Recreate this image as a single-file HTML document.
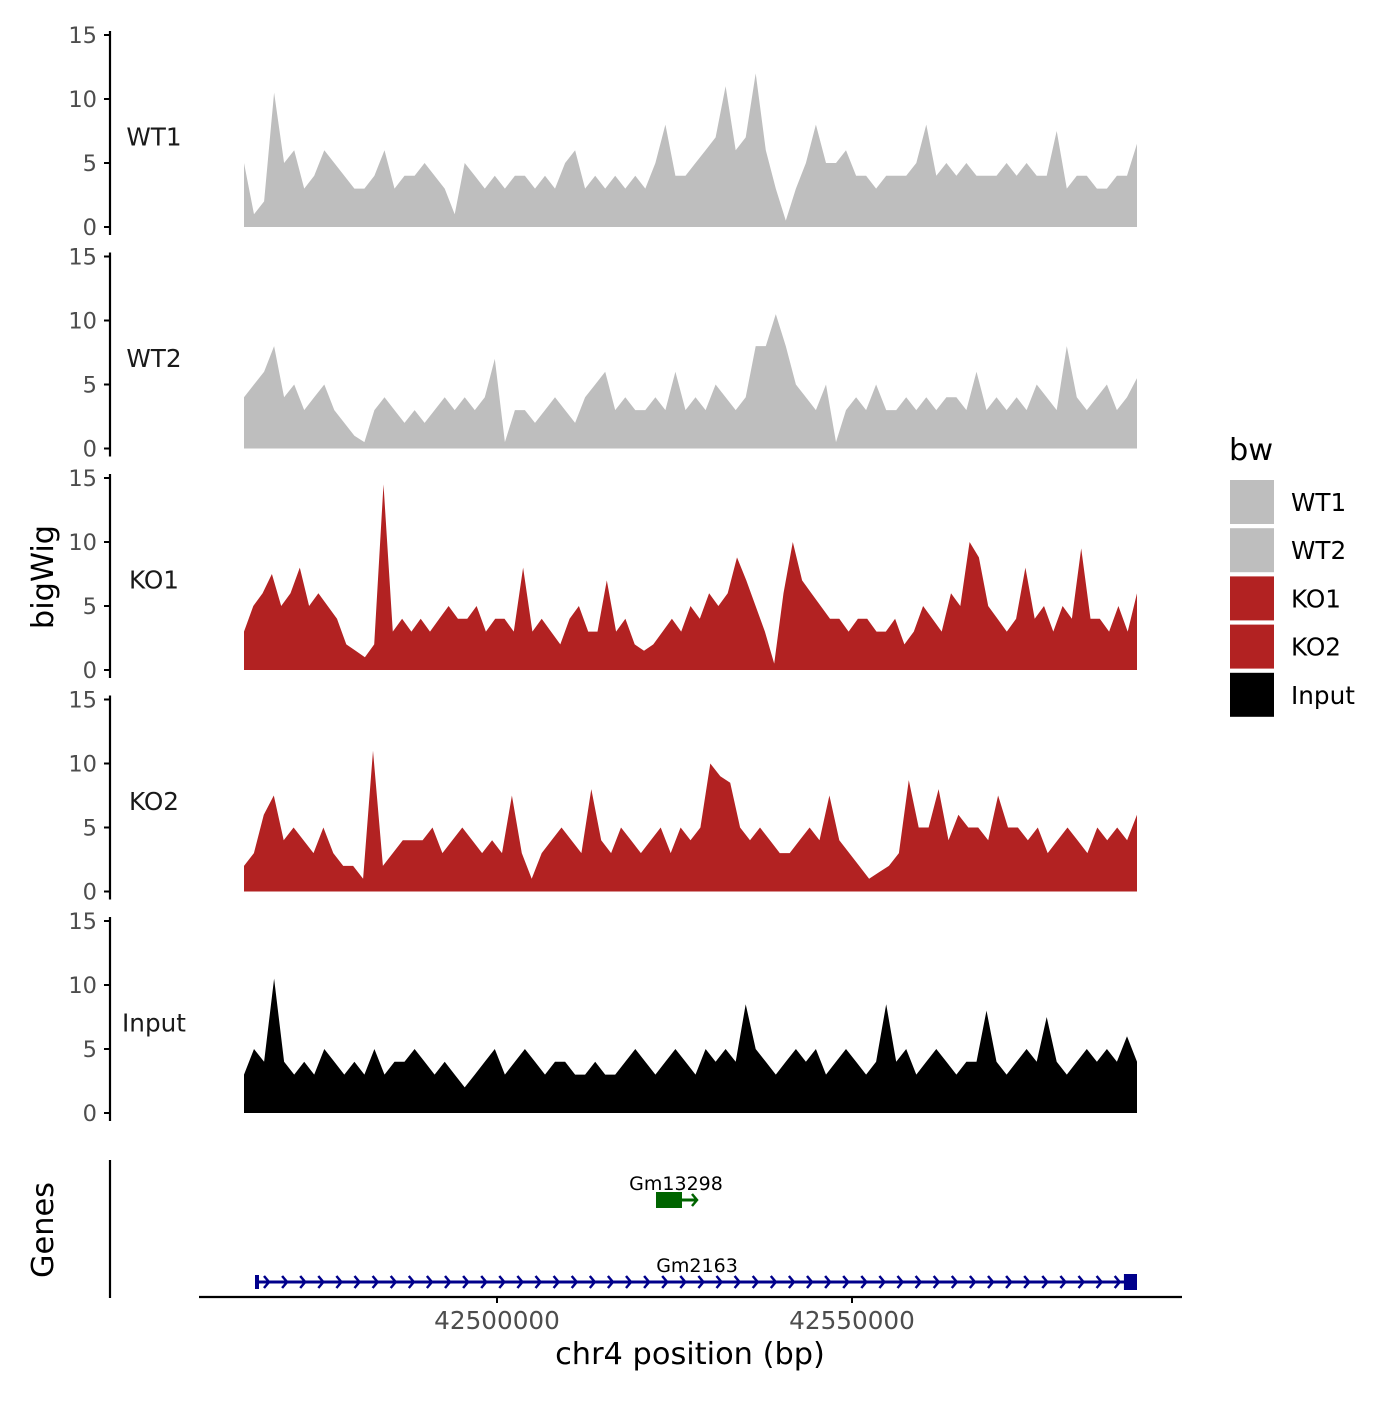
<!DOCTYPE html>
<html><head><meta charset="utf-8">
<style>
html,body{margin:0;padding:0;background:#fff;}
svg text{font-family:"DejaVu Sans","Liberation Sans",sans-serif;}
</style></head>
<body>
<svg id="chart" width="1400" height="1400" viewBox="0 0 1400 1400" xmlns="http://www.w3.org/2000/svg">
<g id="tracks"></g>
<g id="genes"></g>
<g id="axes"></g>
<g id="legend"></g>
</svg>
<script>
const trackNames = ["WT1","WT2","KO1","KO2","Input"];
const trackColors = ["#bebebe","#bebebe","#b22222","#b22222","#000000"];
const yTicks = [0,5,10,15];
const xTicks = [42500000,42550000];
const xStartBp = 42464366, xEndBp = 42590141;
const wt1 = [5,1,2,10.5,5,6,3,4,6,5,4,3,3,4,6,3,4,4,5,4,3,1,5,4,3,4,3,4,4,3,4,3,5,6,3,4,3,4,3,4,3,5,8,4,4,5,6,7,11,6,7,12,6,3,0.5,3,5,8,5,5,6,4,4,3,4,4,4,5,8,4,5,4,5,4,4,4,5,4,5,4,4,7.5,3,4,4,3,3,4,4,6.5];
const wt2 = [4,5,6,8,4,5,3,4,5,3,2,1,0.5,3,4,3,2,3,2,3,4,3,4,3,4,7,0.5,3,3,2,3,4,3,2,4,5,6,3,4,3,3,4,3,6,3,4,3,5,4,3,4,8,8,10.5,8,5,4,3,5,0.5,3,4,3,5,3,3,4,3,4,3,4,4,3,6,3,4,3,4,3,5,4,3,8,4,3,4,5,3,4,5.5];
const ko1 = [3,5,6,7.5,5,6,8,5,6,5,4,2,1.5,1,2,14.5,3,4,3,4,3,4,5,4,4,5,3,4,4,3,8,3,4,3,2,4,5,3,3,7,3,4,2,1.5,2,3,4,3,5,4,6,5,6,8.8,7,5,3,0.5,6,10,7,6,5,4,4,3,4,4,3,3,4,2,3,5,4,3,6,5,10,8.8,5,4,3,4,8,4,5,3,5,4,9.5,4,4,3,5,3,6];
const ko2 = [2,3,6,7.5,4,5,4,3,5,3,2,2,1,11,2,3,4,4,4,5,3,4,5,4,3,4,3,7.5,3,1,3,4,5,4,3,8,4,3,5,4,3,4,5,3,5,4,5,10,9,8.5,5,4,5,4,3,3,4,5,4,7.5,4,3,2,1,1.5,2,3,8.7,5,5,8,4,6,5,5,4,7.5,5,5,4,5,3,4,5,4,3,5,4,5,4,6];
const input = [3,5,4,10.5,4,3,4,3,5,4,3,4,3,5,3,4,4,5,4,3,4,3,2,3,4,5,3,4,5,4,3,4,4,3,3,4,3,3,4,5,4,3,4,5,4,3,5,4,5,4,8.5,5,4,3,4,5,4,5,3,4,5,4,3,4,8.5,4,5,3,4,5,4,3,4,4,8,4,3,4,5,4,7.5,4,3,4,5,4,5,4,6,4];
const trackValues = [wt1,wt2,ko1,ko2,input];
const geneNames = ["Gm13298","Gm2163"];
const geneStarts = [42522394,42466197];
const geneEnds = [42528169,42590141];
const geneCdsEnds = [42526056,42588300];
const geneColors = ["#006400","#00008b"];

const NS="http://www.w3.org/2000/svg";
function mk(tag,attrs,parent){const e=document.createElementNS(NS,tag);for(const k in attrs)e.setAttribute(k,attrs[k]);parent.appendChild(e);return e;}
const X0=244,X1=1137;
function xScale(bp){return X0+(bp-xStartBp)/(xEndBp-xStartBp)*(X1-X0);}
const pxPerUnit=12.8;
function panelBase(k){return 227+k*221.5;}
function yScale(k,v){return panelBase(k)-v*pxPerUnit;}

const tracks=document.getElementById('tracks');
const axes=document.getElementById('axes');
trackNames.forEach((name,k)=>{
  const vals=trackValues[k];
  const n=vals.length;
  let d="M"+X0+","+panelBase(k);
  vals.forEach((v,i)=>{const x=X0+i*(X1-X0)/(n-1);d+=" L"+x.toFixed(1)+","+yScale(k,v).toFixed(1);});
  d+=" L"+X1+","+panelBase(k)+" Z";
  const p=mk('path',{d:d,fill:trackColors[k]},tracks);
  
  
  const ax=mk('line',{x1:110,x2:110,y1:yScale(k,15)-4,y2:panelBase(k)+8,stroke:'#000','stroke-width':2.2},axes);
  
  
  yTicks.forEach(t=>{
    const y=yScale(k,t);
    const tl=mk('line',{x1:104,x2:110,y1:y,y2:y,stroke:'#000','stroke-width':2},axes);
    
    
    const tx=mk('text',{x:97,y:y+8,'text-anchor':'end','font-size':22.5,fill:'#4d4d4d'},axes);
    tx.textContent=t;
    
    
  });
  const lb=mk('text',{x:154,y:yScale(k,7)+8,'text-anchor':'middle','font-size':24.7,fill:'#1a1a1a'},axes);
  lb.textContent=name;
  
  
});
const yt=mk('text',{x:53,y:577,'text-anchor':'middle','font-size':30.4,fill:'#000',transform:'rotate(-90 53 577)'},axes);
yt.textContent='bigWig';


const gy=mk('text',{x:53,y:1230,'text-anchor':'middle','font-size':30.4,fill:'#000',transform:'rotate(-90 53 1230)'},axes);
gy.textContent='Genes';


const ga=mk('line',{x1:110,x2:110,y1:1160,y2:1298,stroke:'#000','stroke-width':2.2},axes);


const xa=mk('line',{x1:199,x2:1182,y1:1297,y2:1297,stroke:'#000','stroke-width':2.2},axes);


xTicks.forEach(t=>{
  const x=xScale(t);
  const tl=mk('line',{x1:x,x2:x,y1:1297,y2:1303,stroke:'#000','stroke-width':2},axes);
  
  
  const tx=mk('text',{x:x,y:1329,'text-anchor':'middle','font-size':24.7,fill:'#4d4d4d'},axes);
  tx.textContent=t;
  
  
});
const xt=mk('text',{x:690,y:1364,'text-anchor':'middle','font-size':30.4,fill:'#000'},axes);
xt.textContent='chr4 position (bp)';



const genes=document.getElementById('genes');
const geneY=[1200,1282];
geneNames.forEach((g,i)=>{
  const xs=xScale(geneStarts[i]),xe=xScale(geneEnds[i]),xc=xScale(geneCdsEnds[i]),y=geneY[i],c=geneColors[i];
  const ln=mk('line',{x1:xs,x2:xe,y1:y,y2:y,stroke:c,'stroke-width':3},genes);
  
  
  if(i===0){
    const r=mk('rect',{x:xs,y:y-8,width:xc-xs,height:16,fill:c},genes);
    
    
    const a=mk('path',{d:`M${xe-5},${y-6} L${xe},${y} L${xe-5},${y+6}`,stroke:c,fill:'none','stroke-width':2.5},genes);
    
    
  } else {
    const r=mk('rect',{x:xc,y:y-8,width:xe-xc,height:16,fill:c},genes);
    
    
    const s=mk('line',{x1:xs,x2:xs,y1:y-7,y2:y+7,stroke:c,'stroke-width':4},genes);
    
    
    for(let x=xs+10;x<xc-4;x+=18.1){
      const a=mk('path',{d:`M${x-3},${y-6} L${x+2},${y} L${x-3},${y+6}`,stroke:c,fill:'none','stroke-width':2.5},genes);
      
      
    }
  }
  const tx=mk('text',{x:i===0?676:697,y:y-10,'text-anchor':'middle','font-size':19,fill:'#000'},genes);
  tx.textContent=g;
  
  
});

const legend=document.getElementById('legend');
const lt=mk('text',{x:1229,y:460,'font-size':30.4,fill:'#000'},legend);
lt.textContent='bw';


trackNames.forEach((name,k)=>{
  const y=480+k*48.2;
  const r=mk('rect',{x:1230,y:y,width:44,height:44,fill:trackColors[k]},legend);
  
  
  const t=mk('text',{x:1291,y:y+31,'font-size':24.7,fill:'#000'},legend);
  t.textContent=name;
  
  
});
</script>
</body></html>
